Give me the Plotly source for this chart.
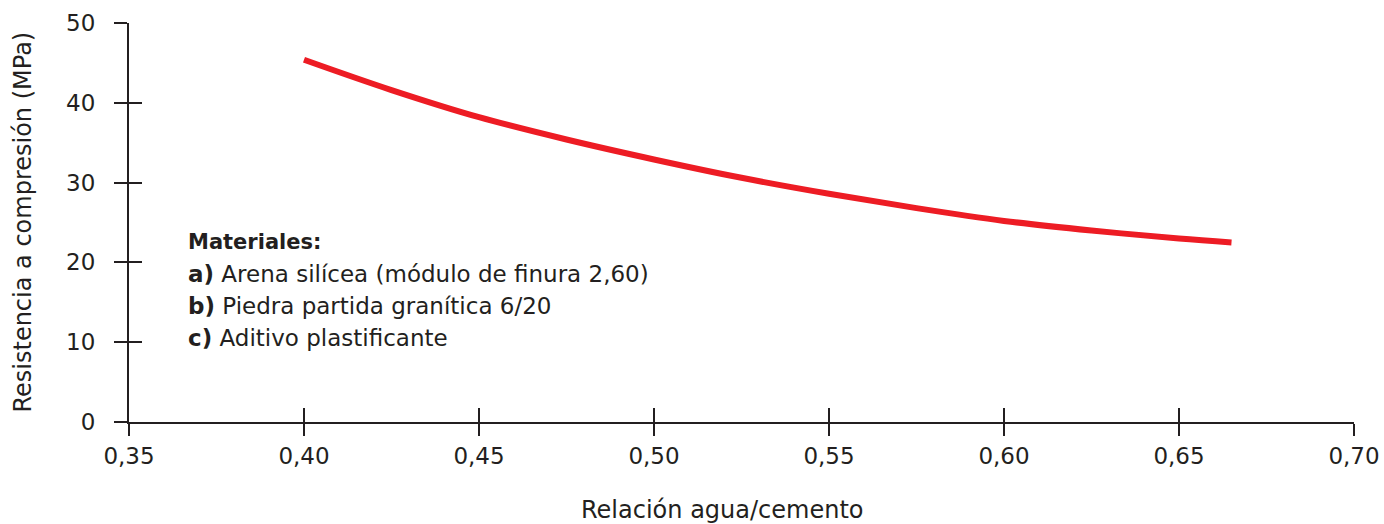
import plotly.graph_objects as go

# Data
relacion = [0.400, 0.425, 0.450, 0.475, 0.500, 0.525, 0.550, 0.575, 0.600, 0.625, 0.650, 0.665]
resistencia = [45.4, 41.6, 38.2, 35.4, 32.9, 30.6, 28.6, 26.8, 25.2, 24.0, 23.0, 22.5]

x_ticks = [0.35, 0.40, 0.45, 0.50, 0.55, 0.60, 0.65, 0.70]
x_labels = ["0,35", "0,40", "0,45", "0,50", "0,55", "0,60", "0,65", "0,70"]
y_ticks = [0, 10, 20, 30, 40, 50]

x_title = "Relación agua/cemento"
y_title = "Resistencia a compresión (MPa)"
legend_lines = [
    "<b>Materiales:</b>",
    "<b>a)</b> Arena silícea (módulo de finura 2,60)",
    "<b>b)</b> Piedra partida granítica 6/20",
    "<b>c)</b> Aditivo plastificante",
]
legend_sizes = [21, 23, 23, 23]

INK = "#231f20"
RED = "#ed1c24"
FONT = "DejaVu Sans"

fig = go.Figure()
fig.add_trace(go.Scatter(x=relacion, y=resistencia, mode="lines",
                         line=dict(color=RED, width=6, shape="spline", smoothing=1.0),
                         hoverinfo="skip", showlegend=False))
# companion trace for overlay axes (inside ticks)
fig.add_trace(go.Scatter(x=relacion, y=resistencia, mode="lines", xaxis="x2", yaxis="y2",
                         line=dict(color="rgba(0,0,0,0)", width=0),
                         hoverinfo="skip", showlegend=False))

common_x = dict(range=[0.35, 0.70], tickvals=x_ticks, showgrid=False, zeroline=False,
                automargin=False, fixedrange=True)
common_y = dict(range=[0, 50], tickvals=y_ticks, showgrid=False, zeroline=False,
                automargin=False, fixedrange=True)

fig.update_layout(
    width=1384, height=524,
    margin=dict(l=129, r=30, t=23, b=102, autoexpand=False),
    paper_bgcolor="white", plot_bgcolor="white",
    font=dict(family=FONT, color=INK),
    xaxis=dict(**common_x, ticktext=x_labels, ticks="outside", ticklen=12, tickwidth=2,
               tickcolor=INK, showline=True, linecolor=INK, linewidth=2,
               tickfont=dict(size=23, family=FONT, color=INK)),
    yaxis=dict(**common_y, ticks="outside", ticklen=13, tickwidth=2, tickcolor=INK,
               showline=True, linecolor=INK, linewidth=2, ticklabelstandoff=14,
               tickfont=dict(size=23, family=FONT, color=INK)),
    xaxis2=dict(**common_x, overlaying="x", side="bottom", ticks="inside", ticklen=14,
                tickwidth=2, tickcolor=INK, showticklabels=False, showline=False),
    yaxis2=dict(**common_y, overlaying="y", side="left", ticks="inside", ticklen=13,
                tickwidth=2, tickcolor=INK, showticklabels=False, showline=False),
)

fig.add_annotation(text=x_title, xref="paper", yref="paper", x=0.484, y=-0.221,
                   xanchor="center", yanchor="middle", showarrow=False,
                   font=dict(size=24, family=FONT, color=INK))
fig.add_annotation(text=y_title, xref="paper", yref="paper", x=-0.0873, y=0.5,
                   xanchor="center", yanchor="middle", textangle=-90, showarrow=False,
                   font=dict(size=24, family=FONT, color=INK))

for i, (line, size) in enumerate(zip(legend_lines, legend_sizes)):
    fig.add_annotation(text=line, xref="paper", yref="paper",
                       x=0.0465, y=0.451 - i * 0.080,
                       xanchor="left", yanchor="middle", showarrow=False,
                       font=dict(size=size, family=FONT, color=INK))

fig.write_html("out.html", config={"displayModeBar": False},
               post_script="document.body.style.margin='0';document.body.style.overflow='hidden';")
